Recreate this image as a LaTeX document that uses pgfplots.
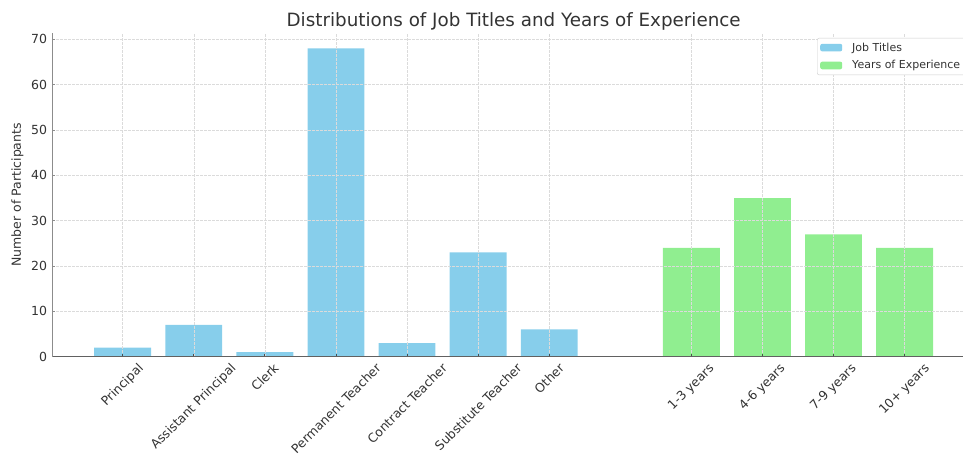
\documentclass[border=0pt]{standalone}
\usepackage{graphicx}
\usepackage{fontspec}
\setmainfont{DejaVu Sans}
\usepackage{pgfplots}
\pgfplotsset{compat=1.18}
\definecolor{skyblue}{HTML}{87CEEB}
\definecolor{lgreen}{HTML}{90EE90}
\definecolor{txt}{HTML}{333333}
\begin{document}
\begin{tikzpicture}
\useasboundingbox (0,0) rectangle (963pt,454pt);
\clip (0,0) rectangle (963pt,454pt);
\begin{axis}[
  at={(52.3pt,97.3pt)}, anchor=south west,
  width=922.7pt, height=323.7pt, scale only axis,
  xmin=-0.99, xmax=11.99, ymin=0, ymax=71.4,
  axis x line*=bottom, axis y line*=left,
  x axis line style={-, draw=black!62, line width=1.1pt},
  y axis line style={-, draw=black!45, line width=1.4pt},
  axis on top,
  xtick={0,1,2,3,4,5,6,8,9,10,11},
  xticklabels={\rotatebox{45}{Principal},\rotatebox{45}{Assistant Principal},\rotatebox{45}{Clerk},\rotatebox{45}{Permanent Teacher},\rotatebox{45}{Contract Teacher},\rotatebox{45}{Substitute Teacher},\rotatebox{45}{Other},\rotatebox{45}{1-3 years},\rotatebox{45}{4-6 years},\rotatebox{45}{7-9 years},\rotatebox{45}{10+ years}},
  ytick={0,10,...,70},
  tick align=inside,
  major tick length=3pt,
  xtick style={draw=black!70, line width=0.8pt},
  ytick style={draw=black!45, line width=0.8pt},
  xticklabel style={anchor=north, inner sep=0pt, yshift=-5.5pt, font=\fontsize{12.5}{14}\selectfont, text=txt},
  yticklabel style={anchor=east, inner sep=0pt, xshift=-5pt, font=\fontsize{12.5}{14}\selectfont, text=txt},
  /pgf/number format/assume math mode=true,
  xmajorgrids, ymajorgrids,
  major grid style={dash pattern=on 2.5pt off 1.5pt, draw=black!14, line width=0.5pt},
  title={Distributions of Job Titles and Years of Experience},
  title style={at={(0.5,1)}, anchor=base, yshift=0.5pt, inner sep=0pt, font=\fontsize{18.3}{20}\selectfont, text=txt},
  ylabel={Number of Participants},
  ylabel style={at={(rel axis cs:-0.0377,0.5)}, anchor=center, inner sep=0pt, font=\fontsize{12.5}{14}\selectfont, text=txt},
  legend style={at={(0.8288,0.9846)}, anchor=north west, draw=black!20, rounded corners=2pt, fill=white, font=\fontsize{11}{13}\selectfont, text=txt, inner xsep=3pt, inner ysep=2.5pt, row sep=4pt,
    /tikz/every odd column/.append style={column sep=8pt}},
  legend cell align=left,
]
\addplot[ybar, bar width=0.8, bar shift=0pt, fill=skyblue, draw=none, area legend,
  legend image code/.code={\fill[skyblue] (0pt,-3.8pt) rectangle (22pt,3.8pt);}]
  coordinates {(0,2) (1,7) (2,1) (3,68) (4,3) (5,23) (6,6)};
\addlegendentry{Job Titles}
\addplot[ybar, bar width=0.8, bar shift=0pt, fill=lgreen, draw=none, area legend,
  legend image code/.code={\fill[lgreen] (0pt,-3.8pt) rectangle (22pt,3.8pt);}]
  coordinates {(8,24) (9,35) (10,27) (11,24)};
\addlegendentry{Years of Experience}
\end{axis}
\end{tikzpicture}
\end{document}
